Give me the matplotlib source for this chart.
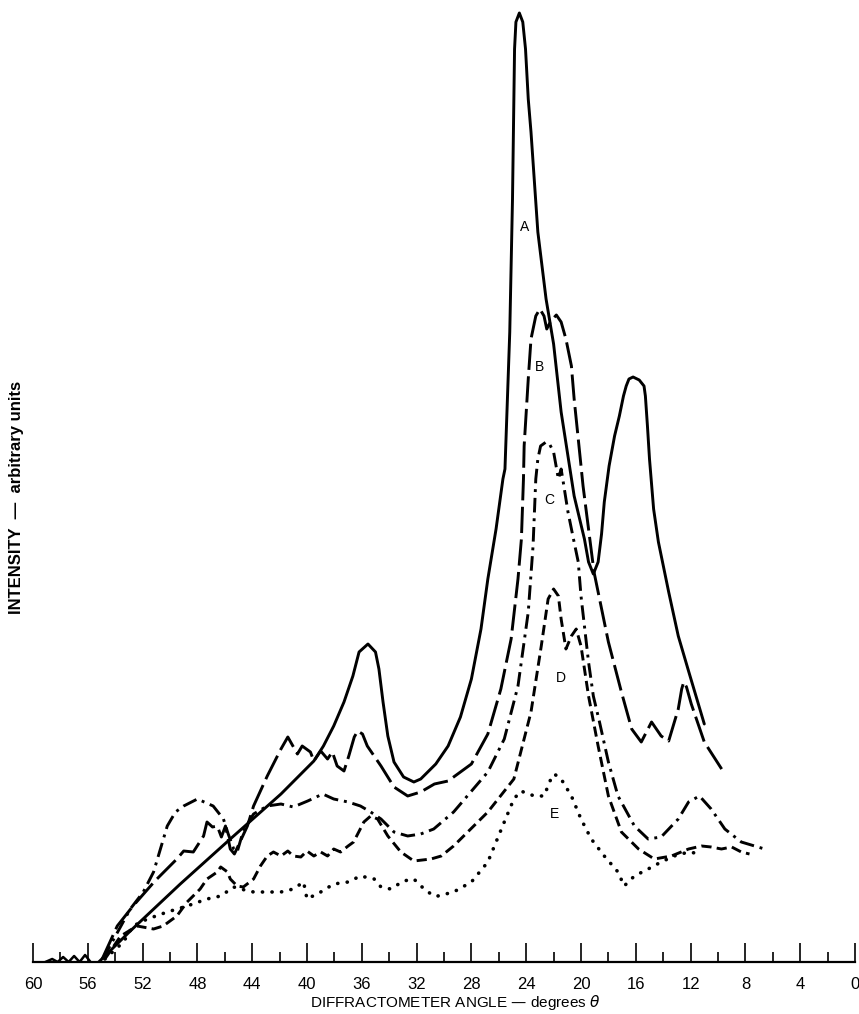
import matplotlib
matplotlib.use("Agg")
import matplotlib.pyplot as plt
from matplotlib.ticker import MultipleLocator

# ---------------- data (degrees theta, arbitrary intensity) ----------------
a_deg = [55.2, 52.9, 49.25, 45.6, 41.9, 39.5, 38.8, 38.05, 37.3, 36.65, 36.2, 35.55, 35.0,
         34.75, 34.45, 34.1, 33.65, 32.95, 32.2, 31.7, 30.6, 29.7, 28.8, 28.0, 27.3, 26.8,
         26.2, 25.7, 25.55, 25.2, 25.0, 24.9, 24.85, 24.75, 24.5, 24.25, 24.05, 23.85, 23.65,
         23.15, 22.55, 22.0, 21.45, 20.5, 19.75, 19.45, 19.1, 18.75, 18.5, 18.3, 17.95, 17.55,
         17.2, 16.9, 16.7, 16.5, 16.2, 15.75, 15.4, 15.3, 15.15, 15.0, 14.7, 14.35, 13.6,
         12.9, 12.15, 11.0]
a_val = [0.0, 3.1, 7.8, 12.3, 16.8, 20.1, 21.6, 23.6, 26.0, 28.6, 31.0, 31.8, 31.0,
         29.3, 26.0, 22.6, 20.0, 18.5, 18.0, 18.3, 19.8, 21.6, 24.5, 28.3, 33.3, 38.3,
         43.3, 48.3, 49.3, 63.0, 76.3, 86.3, 91.3, 94.0, 94.9, 94.0, 91.3, 86.3, 83.0,
         73.0, 66.3, 61.8, 55.0, 46.6, 42.3, 40.0, 38.8, 40.0, 42.8, 46.0, 49.6, 52.6,
         54.6, 56.6, 57.6, 58.3, 58.5, 58.2, 57.6, 56.6, 53.6, 50.3, 45.3, 42.0, 37.0,
         32.6, 29.1, 23.8]

b_deg = [54.95, 53.85, 52.7, 51.1, 49.5, 49.0, 48.3, 47.55, 47.3, 46.9, 46.55, 46.25, 45.95,
         45.6, 45.3, 44.35, 43.9, 42.9, 41.9, 41.4, 40.7, 40.35, 39.75, 39.5, 39.0, 38.5,
         38.15, 37.8, 37.3, 36.95, 36.55, 36.3, 35.95, 35.6, 34.6, 33.65, 32.65, 31.7, 30.7,
         29.7, 28.0, 26.8, 25.85, 25.1, 24.6, 24.35, 24.2, 24.15, 23.85, 23.65, 23.3, 23.0,
         22.7, 22.5, 22.2, 21.8, 21.45, 21.1, 20.7, 20.5, 20.2, 19.85, 19.45, 19.05, 18.0,
         17.05, 16.3, 15.6, 14.85, 14.15, 13.6, 12.9, 12.65, 12.5, 12.3, 11.95, 11.0, 9.5]
b_val = [0.3, 3.6, 5.6, 8.1, 10.3, 11.1, 11.0, 12.6, 14.0, 13.5, 13.6, 12.5, 13.6,
         11.3, 10.8, 13.6, 15.6, 18.6, 21.3, 22.5, 20.8, 21.6, 21.0, 20.1, 21.1, 20.3,
         21.0, 19.6, 19.1, 20.6, 22.5, 23.1, 22.8, 21.6, 19.6, 17.5, 16.6, 17.0, 17.8,
         18.1, 19.8, 22.8, 27.3, 32.3, 38.3, 42.3, 48.3, 51.6, 58.3, 62.3, 64.6, 65.3,
         64.6, 63.3, 64.1, 64.7, 64.0, 62.3, 59.6, 56.3, 52.3, 47.6, 43.3, 39.0, 32.0,
         27.0, 23.3, 22.0, 24.0, 22.6, 22.1, 25.3, 27.3, 28.0, 27.5, 25.8, 22.0, 18.8]

c_deg = [54.9, 52.9, 51.95, 51.2, 50.7, 50.2, 49.6, 49.0, 48.0, 46.85, 46.1, 45.75, 45.35,
         45.1, 44.65, 43.9, 42.9, 41.9, 41.0, 39.95, 38.85, 38.05, 37.0, 36.1, 35.35, 34.6,
         33.65, 32.65, 31.7, 30.75, 29.3, 26.8, 25.6, 24.6, 23.85, 23.5, 23.3, 23.15, 22.95,
         22.55, 22.3, 22.0, 21.65, 21.45, 21.25, 20.95, 20.55, 20.2, 20.0, 19.45, 19.1, 18.65,
         18.0, 17.3, 16.1, 15.1, 14.15, 12.9, 12.15, 11.35, 10.5, 9.5, 8.3, 6.6]
c_val = [0.3, 5.3, 7.0, 9.0, 11.3, 13.6, 15.0, 15.6, 16.3, 15.6, 14.3, 12.8, 11.3,
         11.0, 13.1, 14.8, 15.6, 15.8, 15.5, 16.1, 16.8, 16.3, 16.0, 15.6, 15.0, 14.3,
         13.0, 12.6, 12.8, 13.3, 15.0, 19.0, 22.3, 27.6, 35.0, 41.6, 48.3, 50.3, 51.6,
         52.0, 51.8, 51.0, 48.3, 49.3, 47.6, 45.0, 42.3, 40.0, 36.6, 30.0, 26.6, 24.0,
         20.0, 16.6, 13.6, 12.3, 12.5, 14.3, 16.0, 16.6, 15.3, 13.3, 12.0, 11.3]

d_deg = [54.75, 53.6, 52.4, 51.2, 50.5, 49.5, 48.75, 47.8, 47.3, 46.55, 46.3, 45.8, 45.6,
         45.1, 44.65, 43.9, 43.4, 42.9, 42.45, 41.9, 41.4, 41.0, 40.45, 40.0, 39.5, 39.0,
         38.5, 38.05, 37.55, 37.0, 36.6, 35.85, 35.35, 34.85, 34.1, 33.15, 32.2, 30.95,
         30.2, 29.3, 26.8, 24.9, 23.65, 22.9, 22.4, 22.0, 21.65, 21.45, 21.1, 20.7, 20.35,
         20.0, 19.45, 18.75, 18.0, 17.05, 15.8, 14.65, 13.4, 12.15, 11.2, 10.5, 9.75, 9.0,
         8.3, 7.7]
d_val = [0.3, 2.6, 3.6, 3.3, 3.6, 4.6, 6.0, 7.3, 8.3, 9.0, 9.5, 9.0, 8.3,
         7.6, 7.5, 8.3, 9.6, 10.6, 11.0, 10.6, 11.1, 10.6, 10.5, 11.1, 10.6, 11.0,
         10.6, 11.3, 11.0, 11.6, 12.0, 14.0, 14.6, 14.3, 12.6, 11.0, 10.1, 10.3,
         10.6, 11.6, 15.0, 18.3, 25.0, 31.6, 36.3, 37.3, 36.6, 34.3, 31.3, 32.6, 33.3,
         31.6, 26.6, 21.6, 16.6, 13.0, 11.3, 10.3, 10.6, 11.3, 11.6, 11.5, 11.3, 11.5,
         11.0, 10.8]

e_deg = [54.75, 53.4, 52.7, 51.65, 50.2, 48.75, 47.3, 46.3, 45.35, 44.85, 43.9, 42.9, 41.9,
         41.0, 40.25, 40.0, 39.0, 38.05, 37.0, 36.1, 35.1, 34.6, 33.9, 32.95, 32.2, 31.45,
         30.75, 30.45, 29.3, 28.0, 26.8, 25.6, 24.9, 24.4, 23.4, 22.7, 22.2, 21.95, 21.45,
         20.7, 20.0, 19.25, 18.3, 17.3, 16.85, 16.1, 15.1, 14.15, 13.2, 12.15, 11.2]
e_val = [0.3, 2.0, 3.6, 4.3, 5.0, 5.6, 6.3, 6.6, 7.5, 7.3, 7.0, 7.0, 7.0,
         7.3, 8.0, 6.3, 7.0, 7.8, 8.0, 8.6, 8.3, 7.5, 7.3, 8.1, 8.3, 7.3,
         6.6, 6.6, 7.0, 8.0, 10.0, 14.0, 16.3, 17.1, 16.6, 16.6, 18.3, 18.8, 18.3,
         16.6, 14.3, 12.3, 10.6, 9.0, 7.6, 8.6, 9.3, 10.0, 10.6, 11.0, 10.8]

# small trace wiggle on the baseline at the high-angle end
w_deg = [59.1, 58.6, 58.2, 57.8, 57.4, 57.0, 56.6, 56.2, 55.8]
w_val = [0.0, 0.3, 0.0, 0.5, 0.0, 0.6, 0.0, 0.7, 0.0]

curve_labels = ["A", "B", "C", "D", "E"]
label_deg = [24.1, 23.0, 22.3, 21.45, 21.9]
label_val = [73.5, 59.5, 46.2, 28.4, 14.8]

tick_values = list(range(60, -1, -4))

# ---------------- figure ----------------
W, H = 859, 1014
fig = plt.figure(figsize=(W / 100, H / 100), dpi=100)
x0, x1 = 33, 855
yb = 962
ax = fig.add_axes([x0 / W, (H - yb) / H, (x1 - x0) / W, yb / H])
ax.set_xlim(60, 0)
ax.set_ylim(0, yb / 10.0)

lw = 2.1
kw = dict(color="black", lw=lw, solid_capstyle="round", solid_joinstyle="round",
          dash_capstyle="butt", dash_joinstyle="round")
ax.plot(a_deg, a_val, ls="-", **kw)
ax.plot(b_deg, b_val, ls=(0, (9, 2.2)), **kw)
ax.plot(c_deg, c_val, ls=(0, (5, 2.0, 1.0, 2.0)), **kw)
ax.plot(d_deg, d_val, ls=(0, (3.5, 1.8)), **kw)
ax.plot(e_deg, e_val, ls=(0, (0.05, 2.6)), color="black", lw=2.6,
        dash_capstyle="round")
ax.plot(w_deg, w_val, ls="-", color="black", lw=1.8)

for t, xd, yv in zip(curve_labels, label_deg, label_val):
    ax.text(xd, yv, t, ha="center", va="center", fontsize=10,
            family="Liberation Sans", color="black")

for s in ["top", "right", "left"]:
    ax.spines[s].set_visible(False)
ax.spines["bottom"].set_linewidth(1.6)
ax.set_yticks([])
ax.xaxis.set_major_locator(MultipleLocator(4))
ax.xaxis.set_minor_locator(MultipleLocator(2))
ax.set_xticks(tick_values)
ax.set_xticklabels([str(v) for v in tick_values], family="Liberation Sans", fontsize=12)
ax.tick_params(axis="x", which="major", direction="in", length=14, width=1.2, pad=11)
ax.tick_params(axis="x", which="minor", direction="in", length=7, width=1.2)
ax.patch.set_visible(False)

fig.text(455 / W, 1 - 1003 / H, r"DIFFRACTOMETER ANGLE — degrees $\theta$",
         ha="center", va="center", fontsize=11, family="Liberation Sans")
fig.text(17 / W, 1 - 497 / H, "INTENSITY  —  arbitrary units", rotation=90,
         ha="center", va="center", fontsize=12, fontweight="bold",
         family="Liberation Sans")

fig.savefig("out.png", dpi=100, facecolor="white")
